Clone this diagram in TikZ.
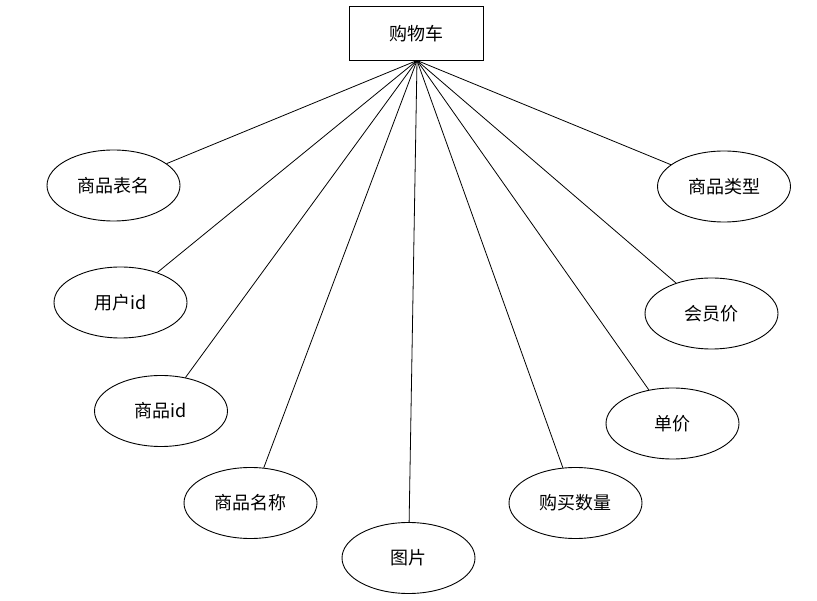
\documentclass[tikz,border=0pt]{standalone}
\usepackage{fontspec}
\setmainfont{Noto Sans CJK SC}
\usetikzlibrary{shapes.geometric}
\begin{document}
\begin{tikzpicture}[x=1pt,y=-1pt,
  ent/.style={draw,line width=0.9pt,minimum width=134pt,minimum height=54pt,inner sep=0pt,font=\fontsize{18}{20}\selectfont},
  attr/.style={draw,line width=0.9pt,ellipse,minimum width=133pt,minimum height=71pt,inner sep=0pt,font=\fontsize{18}{20}\selectfont},
  link/.style={line width=0.8pt}]
\useasboundingbox (0,0) rectangle (817,601);
\node[ent] (cart) at (416,33.5) {购物车};
\coordinate (hub) at (417,60.5);
\node[attr] (a1) at (113.5,185.5) {商品表名};
\node[attr] (a2) at (120.5,302.5) {用户id};
\node[attr] (a3) at (161,411) {商品id};
\node[attr] (a4) at (250.5,503) {商品名称};
\node[attr] (a5) at (408.5,558) {图片};
\node[attr] (a6) at (575.5,503) {购买数量};
\node[attr] (a7) at (672.5,423.5) {单价};
\node[attr] (a8) at (711.5,313.5) {会员价};
\node[attr] (a9) at (724,186.5) {商品类型};
\foreach \n in {a1,a2,a3,a4,a5,a6,a7,a8,a9}
  \draw[link] (hub) -- (\n);
\end{tikzpicture}
\end{document}
